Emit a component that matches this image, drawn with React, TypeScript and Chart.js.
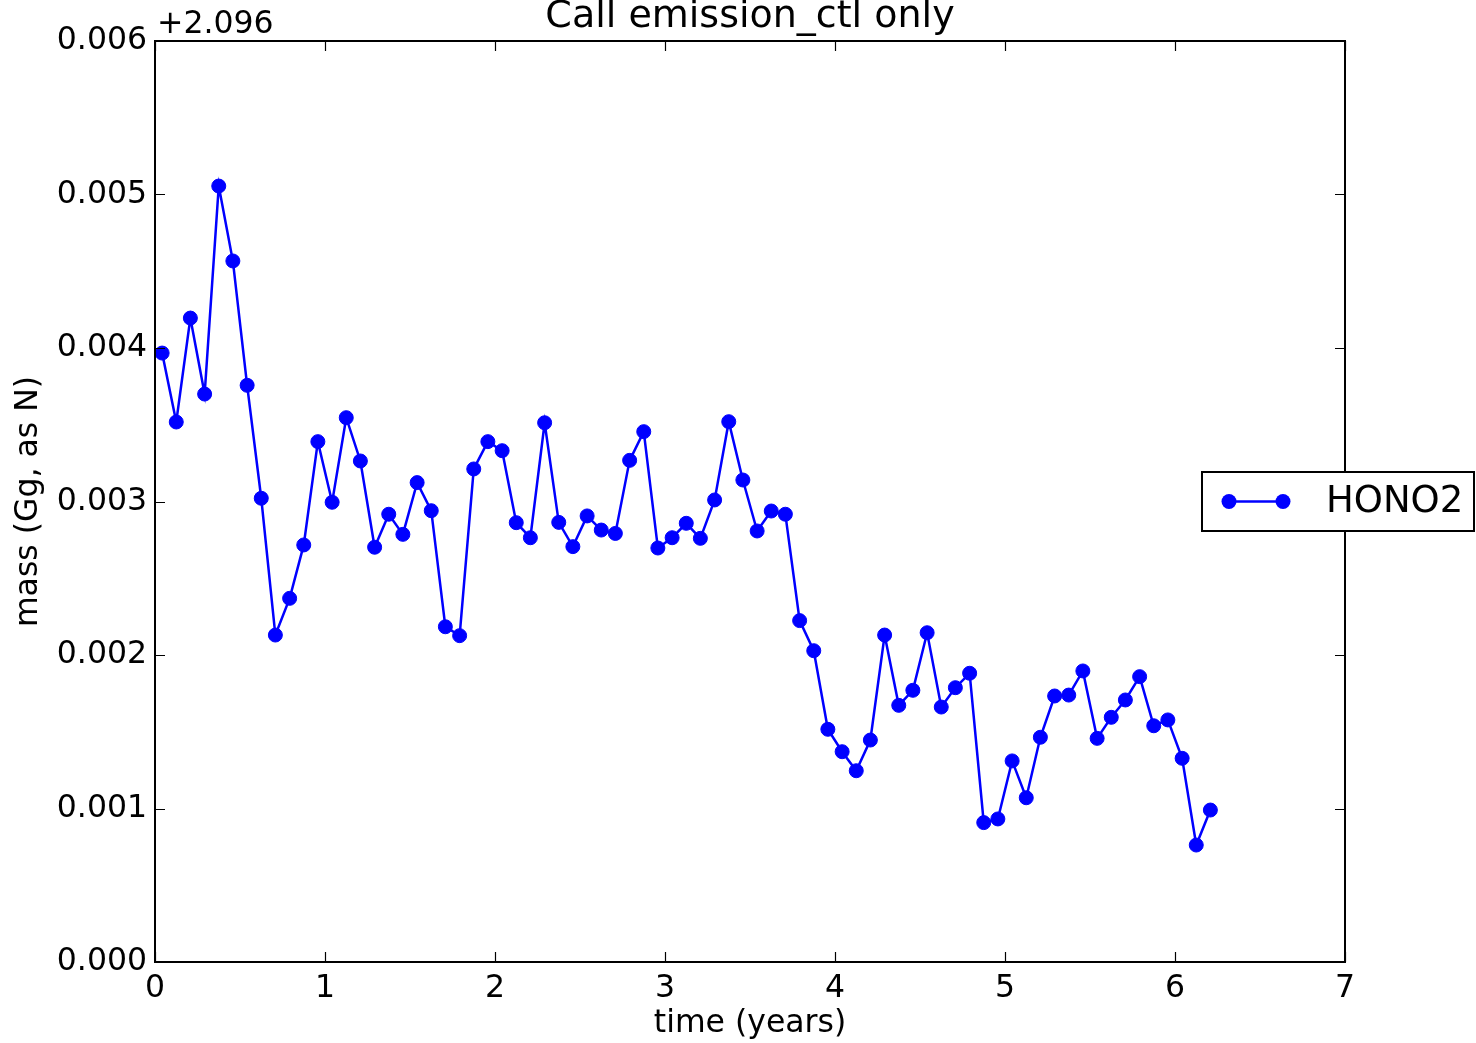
import React, { useEffect, useRef } from "react";
import { Chart, registerables } from "chart.js";

Chart.register(...registerables);

const TITLE = "Call emission_ctl only";
const X_LABEL = "time (years)";
const Y_LABEL = "mass (Gg, as N)";
const Y_OFFSET_LABEL = "+2.096";
const SERIES_NAME = "HONO2";

// time of each sample (years)
const TIMES = [
  0.042, 0.125, 0.208, 0.292, 0.375, 0.458, 0.542, 0.625, 0.708, 0.792, 0.875, 0.958,
  1.042, 1.125, 1.208, 1.292, 1.375, 1.458, 1.542, 1.625, 1.708, 1.792, 1.875, 1.958,
  2.042, 2.125, 2.208, 2.292, 2.375, 2.458, 2.542, 2.625, 2.708, 2.792, 2.875, 2.958,
  3.042, 3.125, 3.208, 3.292, 3.375, 3.458, 3.542, 3.625, 3.708, 3.792, 3.875, 3.958,
  4.042, 4.125, 4.208, 4.292, 4.375, 4.458, 4.542, 4.625, 4.708, 4.792, 4.875, 4.958,
  5.042, 5.125, 5.208, 5.292, 5.375, 5.458, 5.542, 5.625, 5.708, 5.792, 5.875, 5.958,
  6.042, 6.125, 6.208,
];

// mass minus 2.096 Gg (as N)
const MASS_DEVIATION = [
  0.003967, 0.003518, 0.004195, 0.0037, 0.005055, 0.004567, 0.003757, 0.003021, 0.00213, 0.002369, 0.002717, 0.00339,
  0.002995, 0.003546, 0.003264, 0.002702, 0.002917, 0.002786, 0.003123, 0.00294, 0.002184, 0.002126, 0.003212, 0.00339,
  0.003331, 0.002862, 0.002764, 0.003513, 0.002864, 0.002706, 0.002906, 0.002814, 0.002792, 0.003268, 0.003455, 0.002697,
  0.002764, 0.002858, 0.00276, 0.00301, 0.00352, 0.00314, 0.002808, 0.002938, 0.002917, 0.002224, 0.002028, 0.001516,
  0.00137, 0.001246, 0.001446, 0.00213, 0.001672, 0.00177, 0.002145, 0.001661, 0.001787, 0.001881, 0.000908, 0.000932,
  0.00131, 0.00107, 0.001464, 0.001733, 0.001739, 0.001896, 0.001457, 0.001594, 0.001707, 0.001859, 0.001539, 0.001577,
  0.001327, 0.000762, 0.00099,
];

const X_TICKS = [0, 1, 2, 3, 4, 5, 6, 7];
const Y_TICKS = [0, 0.001, 0.002, 0.003, 0.004, 0.005, 0.006];

const FONT = "'DejaVu Sans', sans-serif";
const BLUE = "#0000ff";
const BASE_SIZE = 31.5;

const decorPlugin = {
  id: "decor",
  afterDatasetsDraw(chart: any) {
    const { ctx, chartArea: a, scales } = chart;
    ctx.save();
    // frame
    ctx.strokeStyle = "#000";
    ctx.lineWidth = 2;
    ctx.strokeRect(a.left, a.top, a.right - a.left, a.bottom - a.top);
    // inward ticks on all sides
    ctx.lineWidth = 1.2;
    ctx.beginPath();
    for (const t of X_TICKS) {
      const x = Math.round(scales.x.getPixelForValue(t)) + 0.5;
      ctx.moveTo(x, a.bottom);
      ctx.lineTo(x, a.bottom - 10);
      ctx.moveTo(x, a.top);
      ctx.lineTo(x, a.top + 10);
    }
    for (const t of Y_TICKS) {
      const y = Math.round(scales.y.getPixelForValue(t)) + 0.5;
      ctx.moveTo(a.left, y);
      ctx.lineTo(a.left + 10, y);
      ctx.moveTo(a.right, y);
      ctx.lineTo(a.right - 10, y);
    }
    ctx.stroke();

    // title
    ctx.fillStyle = "#000";
    ctx.font = `38px ${FONT}`;
    ctx.textAlign = "center";
    ctx.textBaseline = "alphabetic";
    ctx.fillText(TITLE, (a.left + a.right) / 2, a.top - 14);

    // offset text
    ctx.font = `${BASE_SIZE}px ${FONT}`;
    ctx.textAlign = "left";
    ctx.fillText(Y_OFFSET_LABEL, a.left + 2, a.top - 8);

    // legend
    const cy = (a.top + a.bottom) / 2;
    const bx = a.right - 143;
    const by = cy - 29.5;
    const bw = 272;
    const bh = 59;
    ctx.fillStyle = "#fff";
    ctx.fillRect(bx, by, bw, bh);
    ctx.strokeStyle = "#000";
    ctx.lineWidth = 2;
    ctx.strokeRect(bx, by, bw, bh);
    ctx.strokeStyle = BLUE;
    ctx.lineWidth = 2.5;
    ctx.beginPath();
    ctx.moveTo(bx + 27, cy);
    ctx.lineTo(bx + 81, cy);
    ctx.stroke();
    ctx.fillStyle = BLUE;
    for (const mx of [bx + 27, bx + 81]) {
      ctx.beginPath();
      ctx.arc(mx, cy, 7.5, 0, Math.PI * 2);
      ctx.fill();
    }
    ctx.fillStyle = "#000";
    ctx.font = `37px ${FONT}`;
    ctx.textAlign = "left";
    ctx.textBaseline = "middle";
    ctx.fillText(SERIES_NAME, bx + 124, cy + 1);
    ctx.restore();
  },
};

export default function App() {
  const canvasRef = useRef<HTMLCanvasElement | null>(null);

  useEffect(() => {
    const canvas = canvasRef.current;
    if (!canvas) return;
    const points = TIMES.map((t, i) => ({ x: t, y: MASS_DEVIATION[i] }));
    const chart = new Chart(canvas, {
      type: "line",
      data: {
        datasets: [
          {
            label: SERIES_NAME,
            data: points,
            borderColor: BLUE,
            backgroundColor: BLUE,
            borderWidth: 2.5,
            pointRadius: 7,
            pointBorderWidth: 1,
            pointBorderColor: BLUE,
            pointBackgroundColor: BLUE,
            fill: false,
            tension: 0,
          },
        ],
      },
      options: {
        responsive: false,
        animation: false,
        devicePixelRatio: 1,
        layout: { padding: { top: 41, right: 131, left: 0, bottom: 0 } },
        plugins: {
          legend: { display: false },
          title: { display: false },
          tooltip: { enabled: false },
        },
        scales: {
          x: {
            type: "linear",
            min: 0,
            max: 7,
            grid: { display: false, drawTicks: false },
            border: { display: false },
            afterBuildTicks: (scale: any) => {
              scale.ticks = X_TICKS.map((v) => ({ value: v }));
            },
            afterFit: (scale: any) => {
              scale.height = 81;
            },
            ticks: {
              color: "#000",
              font: { family: FONT, size: BASE_SIZE },
              padding: 8,
              maxRotation: 0,
              callback: (v: any) => String(v),
            },
            title: {
              display: true,
              text: X_LABEL,
              color: "#000",
              font: { family: FONT, size: BASE_SIZE },
              padding: { top: 0, bottom: 0 },
            },
          },
          y: {
            type: "linear",
            min: 0,
            max: 0.006,
            grid: { display: false, drawTicks: false },
            border: { display: false },
            afterBuildTicks: (scale: any) => {
              scale.ticks = Y_TICKS.map((v) => ({ value: v }));
            },
            afterFit: (scale: any) => {
              scale.width = 155;
            },
            ticks: {
              color: "#000",
              font: { family: FONT, size: BASE_SIZE },
              padding: 8,
              callback: (v: any) => Number(v).toFixed(3),
            },
            title: {
              display: true,
              text: Y_LABEL,
              color: "#000",
              font: { family: FONT, size: BASE_SIZE },
              padding: { top: 10, bottom: 0 },
            },
          },
        },
      },
      plugins: [decorPlugin],
    });
    return () => chart.destroy();
  }, []);

  return (
    <div style={{ position: "fixed", left: 0, top: 0, width: 1476, height: 1043, background: "#fff" }}>
      <canvas ref={canvasRef} width={1476} height={1043} style={{ width: 1476, height: 1043, display: "block" }} />
    </div>
  );
}
